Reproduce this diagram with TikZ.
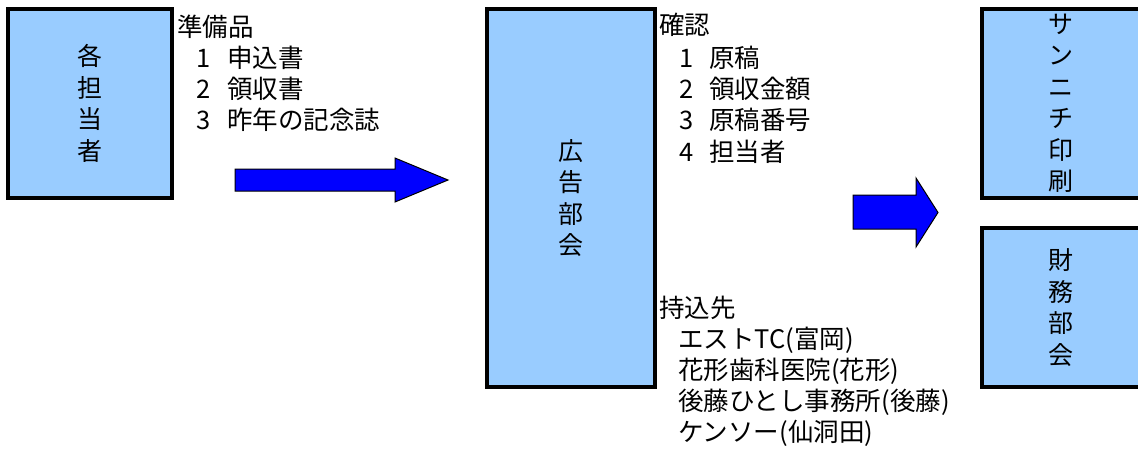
\documentclass[tikz,border=0pt]{standalone}
\usepackage{fontspec}
\setmainfont{Noto Sans CJK JP}
\begin{document}
\begin{tikzpicture}[x=1pt,y=-1pt,
  box/.style={draw=black,line width=3.3pt,fill=boxblue,rectangle,inner sep=0pt,
    align=center,font=\fontsize{25}{31.5}\selectfont},
  lbl/.style={anchor=west,inner sep=0pt,font=\fontsize{25.5}{28}\selectfont},
  blockarrow/.style={draw=black,line width=1pt,fill=arrowblue,line join=miter}]
\definecolor{boxblue}{HTML}{99CCFF}
\definecolor{arrowblue}{HTML}{0000FF}
\useasboundingbox (0,0) rectangle (1138,448);
% boxes
\node[box,minimum width=164pt,minimum height=189pt] (tanto) at (90,103.5) {各\\担\\当\\者};
\node[box,minimum width=168pt,minimum height=378pt] (kokoku) at (571,198) {広\\告\\部\\会};
\node[box,minimum width=158pt,minimum height=189pt] (sanichi) at (1061,103.5) {サ\\ン\\ニ\\チ\\印\\刷};
\node[box,minimum width=158pt,minimum height=159pt] (zaimu) at (1061,307.5) {財\\務\\部\\会};
% block arrows
\draw[blockarrow] (235,169) -- (395,169) -- (395,158) -- (448,180) -- (395,202) -- (395,191) -- (235,191) -- cycle;
\draw[blockarrow] (853,195) -- (916,195) -- (916,178) -- (938,212.5) -- (916,247) -- (916,229) -- (853,229) -- cycle;
% texts left
\node[lbl] (jb) at (177,27) {準備品};
\node[lbl] (jb1) at (196,58) {\makebox[31pt][l]{1}申込書};
\node[lbl] (jb2) at (196,89) {\makebox[31pt][l]{2}領収書};
\node[lbl] (jb3) at (196,120) {\makebox[31pt][l]{3}昨年の記念誌};
% texts middle
\node[lbl] (kn) at (659,25) {確認};
\node[lbl] (kn1) at (679,58) {\makebox[30pt][l]{1}原稿};
\node[lbl] (kn2) at (679,89) {\makebox[30pt][l]{2}領収金額};
\node[lbl] (kn3) at (679,120) {\makebox[30pt][l]{3}原稿番号};
\node[lbl] (kn4) at (679,152) {\makebox[30pt][l]{4}担当者};
\node[lbl] (mk) at (659,308) {持込先};
\node[lbl] (mk1) at (678,340) {エストTC(富岡)};
\node[lbl] (mk2) at (678,371) {花形歯科医院(花形)};
\node[lbl] (mk3) at (678,402) {後藤ひとし事務所(後藤)};
\node[lbl] (mk4) at (678,433) {ケンソー(仙洞田)};
\end{tikzpicture}
\end{document}
